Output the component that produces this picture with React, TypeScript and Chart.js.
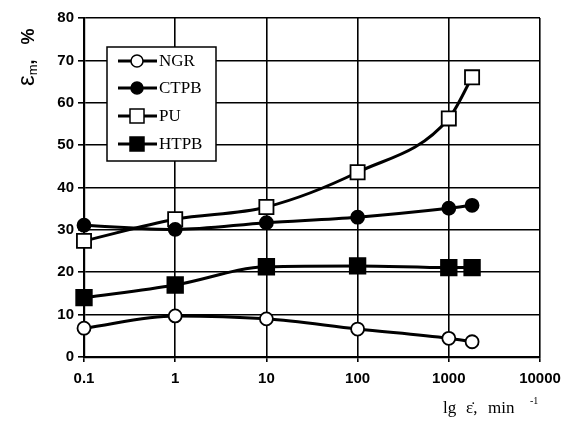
import React, { useEffect, useRef } from "react";
import { Chart, registerables } from "chart.js";
Chart.register(...registerables);

const rates = [0.1, 1, 10, 100, 1000, 1800];
const ngr = [6.8, 9.7, 9.0, 6.6, 4.4, 3.6];
const ctpb = [31.1, 30.1, 31.7, 33.0, 35.1, 35.8];
const pu = [27.4, 32.5, 35.4, 43.6, 56.3, 66.0];
const htpb = [14.0, 17.0, 21.3, 21.5, 21.1, 21.1];
const seriesNames = ["NGR", "CTPB", "PU", "HTPB"];
const xTicks = [0.1, 1, 10, 100, 1000, 10000];
const xTickLabels = ["0.1", "1", "10", "100", "1000", "10000"];

const styles = [
  { style: "circle", fill: "#ffffff", r: 6.5 },
  { style: "circle", fill: "#000000", r: 6.5 },
  { style: "rect", fill: "#ffffff", r: 10 },
  { style: "rect", fill: "#000000", r: 11 },
];

const overlay = {
  id: "overlay",
  afterDraw(chart: any) {
    const ctx = chart.ctx;
    ctx.save();
    // y title
    ctx.fillStyle = "#000";
    ctx.translate(34, 86);
    ctx.rotate(-Math.PI / 2);
    ctx.textBaseline = "alphabetic";
    ctx.textAlign = "left";
    ctx.font = "24px 'Liberation Sans'";
    ctx.fillText("ε", 0, 0);
    let w = ctx.measureText("ε").width;
    ctx.font = "13px 'Liberation Sans'";
    ctx.fillText("m", w, 3);
    w += ctx.measureText("m").width;
    ctx.font = "bold 18px 'Liberation Sans'";
    ctx.fillText(",   %", w, 0);
    ctx.restore();

    // x title
    ctx.save();
    ctx.fillStyle = "#000";
    ctx.textBaseline = "alphabetic";
    ctx.textAlign = "left";
    ctx.font = "17px 'Liberation Serif'";
    ctx.fillText("lg", 443, 413);
    ctx.fillText("ε\u0307,", 466, 413);
    ctx.fillText("min", 488, 413);
    ctx.font = "10px 'Liberation Serif'";
    ctx.fillText("-1", 530, 404);
    ctx.restore();

    // legend
    ctx.save();
    const bx = 107, by = 47, bw = 109, bh = 114;
    ctx.fillStyle = "#fff";
    ctx.fillRect(bx, by, bw, bh);
    ctx.strokeStyle = "#000";
    ctx.lineWidth = 1.5;
    ctx.strokeRect(bx, by, bw, bh);
    const rows = [61, 88, 116, 144];
    seriesNames.forEach((n, i) => {
      const y = rows[i];
      ctx.strokeStyle = "#000";
      ctx.lineWidth = 3;
      ctx.beginPath();
      ctx.moveTo(118, y);
      ctx.lineTo(157, y);
      ctx.stroke();
      const s = styles[i];
      ctx.fillStyle = s.fill;
      ctx.lineWidth = 1.5;
      ctx.beginPath();
      if (s.style === "circle") {
        ctx.arc(137, y, 6, 0, Math.PI * 2);
      } else {
        ctx.rect(137 - 7, y - 7, 14, 14);
      }
      ctx.fill();
      ctx.stroke();
      ctx.fillStyle = "#000";
      ctx.font = "17px 'Liberation Serif'";
      ctx.textBaseline = "middle";
      ctx.fillText(n, 159, y + 1);
    });
    ctx.restore();
  },
};

export default function App() {
  const ref = useRef<HTMLCanvasElement>(null);
  useEffect(() => {
    const data = [ngr, ctpb, pu, htpb];
    const chart = new Chart(ref.current!, {
      type: "line",
      data: {
        datasets: data.map((vals, i) => ({
          label: seriesNames[i],
          data: vals.map((v, j) => ({ x: rates[j], y: v })),
          borderColor: "#000",
          borderWidth: 3,
          backgroundColor: styles[i].fill,
          pointBackgroundColor: styles[i].fill,
          pointBorderColor: "#000",
          pointBorderWidth: 1.8,
          pointStyle: styles[i].style as any,
          pointRadius: styles[i].r,
          tension: 0.35,
          cubicInterpolationMode: "monotone" as any,
          clip: false as any,
        })),
      },
      options: {
        animation: false,
        responsive: false,
        maintainAspectRatio: false,
        layout: { padding: { left: 0, top: 18, right: 31, bottom: 0 } },
        plugins: { legend: { display: false }, tooltip: { enabled: false } },
        scales: {
          x: {
            type: "logarithmic",
            min: 0.1,
            max: 10000,
            afterBuildTicks: (s: any) => {
              s.ticks = xTicks.map((v) => ({ value: v }));
            },
            afterFit: (s: any) => {
              s.height = 71;
            },
            ticks: {
              color: "#000",
              font: { family: "'Liberation Sans'", size: 15, weight: "bold" },
              padding: 8,
              maxRotation: 0,
              autoSkip: false,
              callback: (v: any) => {
                const i = xTicks.indexOf(Number(v));
                return i >= 0 ? xTickLabels[i] : "";
              },
            },
            grid: { color: "#000", lineWidth: 1.6, tickLength: 5, drawTicks: true },
            border: { color: "#000", width: 2.2 },
          },
          y: {
            min: 0,
            max: 80,
            afterFit: (s: any) => {
              s.width = 84;
            },
            ticks: {
              stepSize: 10,
              color: "#000",
              font: { family: "'Liberation Sans'", size: 15, weight: "bold" },
              padding: 4,
            },
            grid: { color: "#000", lineWidth: 1.6, tickLength: 6 },
            border: { color: "#000", width: 2.2 },
          },
        },
      },
      plugins: [overlay],
    });
    return () => chart.destroy();
  }, []);
  return (
    <div style={{ position: "fixed", left: 0, top: 0, width: 571, height: 428, background: "#fff" }}>
      <canvas ref={ref} width={571} height={428} style={{ width: 571, height: 428 }} />
    </div>
  );
}
